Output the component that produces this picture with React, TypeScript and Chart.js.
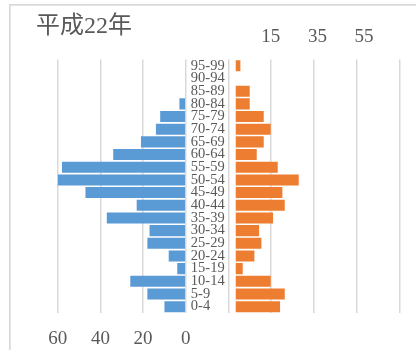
import { useEffect, useRef } from 'react';
import { Chart, registerables } from 'chart.js';

Chart.register(...registerables);

// Population pyramid, 平成22年 (5-year age groups, bottom to top)
const ageGroups = [
  '0-4', '5-9', '10-14', '15-19', '20-24', '25-29', '30-34', '35-39', '40-44', '45-49',
  '50-54', '55-59', '60-64', '65-69', '70-74', '75-79', '80-84', '85-89', '90-94', '95-99',
];
const male = [10, 18, 26, 4, 8, 18, 17, 37, 23, 47, 60, 58, 34, 21, 14, 12, 3, 0, 0, 0];
const female = [19, 21, 15, 3, 8, 11, 10, 16, 21, 20, 27, 18, 9, 12, 15, 12, 6, 6, 0, 2];
const maleTicks = [60, 40, 20, 0];
const femaleTicks = [15, 35, 55];
const title = '平成22年';

const TEXT = '#595959';
const GRID = '#d9d9d9';
const SERIF = "'Liberation Serif', serif";
const TITLE_FONT = "'Liberation Serif', 'Noto Sans CJK JP', serif";

const framePlugin = {
  id: 'frame',
  beforeDraw(chart: any) {
    const ctx = chart.ctx;
    ctx.save();
    ctx.fillStyle = GRID;
    ctx.fillRect(9, 4, 407, 1.7);
    ctx.fillRect(9, 4, 1.7, 346);
    ctx.fillStyle = TEXT;
    ctx.font = `24px ${TITLE_FONT}`;
    ctx.textAlign = 'left';
    ctx.textBaseline = 'middle';
    ctx.fillText(title, 36, 27);
    ctx.restore();
  },
};

// Age-group labels sit in the gap between the two halves
const ageLabelPlugin = {
  id: 'ageLabels',
  afterDatasetsDraw(chart: any) {
    const yScale = chart.scales.y;
    const xM = chart.scales.xM;
    const ctx = chart.ctx;
    ctx.save();
    ctx.font = `14.5px ${SERIF}`;
    ctx.fillStyle = TEXT;
    ctx.textAlign = 'left';
    ctx.textBaseline = 'middle';
    const x0 = xM.getPixelForValue(0) + 5;
    ageGroups.forEach((g, i) => ctx.fillText(g, x0, yScale.getPixelForValue(i)));
    ctx.restore();
  },
};

export default function App() {
  const ref = useRef<HTMLCanvasElement | null>(null);

  useEffect(() => {
    if (!ref.current) return;
    const chart = new Chart(ref.current, {
      type: 'bar',
      data: {
        labels: ageGroups,
        datasets: [
          {
            label: '男',
            data: male,
            xAxisID: 'xM',
            yAxisID: 'y',
            backgroundColor: '#5B9BD5',
            grouped: false,
            categoryPercentage: 1,
            barPercentage: 0.87,
          } as any,
          {
            label: '女',
            data: female,
            xAxisID: 'xF',
            yAxisID: 'y',
            backgroundColor: '#ED7D31',
            grouped: false,
            categoryPercentage: 1,
            barPercentage: 0.87,
          } as any,
        ],
      },
      options: {
        indexAxis: 'y',
        animation: false,
        responsive: false,
        devicePixelRatio: 1,
        layout: { padding: { left: 57.7, right: 16.7, top: 0, bottom: 0 } },
        plugins: { legend: { display: false }, tooltip: { enabled: false }, title: { display: false } },
        scales: {
          y: { type: 'category', display: false, reverse: true, offset: true },
          xM: {
            type: 'linear',
            position: 'bottom',
            reverse: true,
            min: -100,
            max: 60,
            ticks: {
              stepSize: 20,
              autoSkip: false,
              maxRotation: 0,
              padding: 15,
              color: TEXT,
              font: { family: SERIF, size: 19 },
              callback: (v: any) => (maleTicks.includes(Number(v)) ? String(v) : ''),
            },
            grid: { color: GRID, lineWidth: 1.5, drawTicks: false },
            border: { display: false },
            afterFit: (s: any) => {
              s.height = 37;
            },
          },
          xF: {
            type: 'linear',
            position: 'top',
            min: -76.3,
            max: 70.1,
            afterBuildTicks: (s: any) => {
              s.ticks = femaleTicks.map((v) => ({ value: v }));
            },
            ticks: {
              autoSkip: false,
              maxRotation: 0,
              padding: 11,
              color: TEXT,
              font: { family: SERIF, size: 19 },
            },
            grid: { display: false, drawTicks: false },
            border: { display: false },
            afterFit: (s: any) => {
              s.height = 59.5;
            },
          },
        },
      } as any,
      plugins: [framePlugin, ageLabelPlugin],
    });
    return () => chart.destroy();
  }, []);

  return (
    <div style={{ position: 'absolute', left: 0, top: 0, width: 416, height: 350, background: '#fff' }}>
      <canvas ref={ref} width={416} height={350} style={{ display: 'block' }} />
    </div>
  );
}
